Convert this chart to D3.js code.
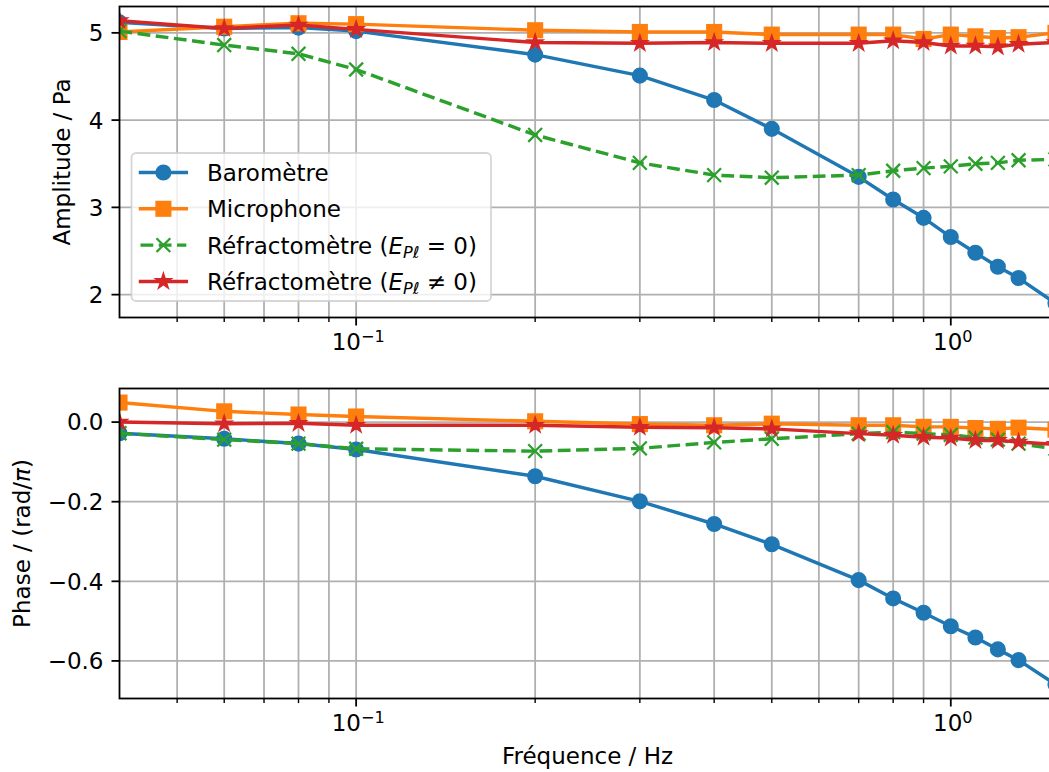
<!DOCTYPE html>
<html><head><meta charset="utf-8">
<script src="https://cdn.jsdelivr.net/npm/d3@7"></script>
<style>body{margin:0;background:#fff} text{font-family:"DejaVu Sans",sans-serif;fill:#000}</style>
</head><body><svg id="c" width="1049" height="772"></svg>
<script>
// ---- data ----
const freqs = [0.04,0.06,0.08,0.1,0.2,0.3,0.4,0.5,0.7,0.8,0.9,1.0,1.1,1.2,1.3,1.5];
const ampBaro  = [5.12,5.05,5.06,5.02,4.75,4.51,4.23,3.90,3.35,3.09,2.88,2.66,2.48,2.32,2.19,1.90];
const ampMicro = [5.01,5.07,5.11,5.10,5.03,5.01,5.01,4.98,4.98,4.98,4.93,4.98,4.96,4.94,4.95,5.00];
const ampRefr0 = [5.02,4.86,4.76,4.58,3.83,3.51,3.37,3.34,3.37,3.42,3.45,3.47,3.50,3.51,3.54,3.55];
const ampRefr1 = [5.14,5.05,5.09,5.04,4.89,4.88,4.89,4.88,4.88,4.91,4.89,4.85,4.85,4.84,4.87,4.89];
const phBaro  = [-0.028,-0.042,-0.054,-0.069,-0.136,-0.199,-0.256,-0.307,-0.397,-0.443,-0.479,-0.513,-0.541,-0.571,-0.598,-0.659];
const phMicro = [0.049,0.027,0.019,0.014,0.002,-0.005,-0.008,-0.004,-0.008,-0.008,-0.012,-0.012,-0.015,-0.017,-0.014,-0.019];
const phRefr0 = [-0.028,-0.044,-0.054,-0.067,-0.073,-0.066,-0.051,-0.042,-0.029,-0.025,-0.029,-0.032,-0.039,-0.044,-0.054,-0.067];
const phRefr1 = [0.000,-0.004,-0.003,-0.008,-0.008,-0.013,-0.014,-0.017,-0.029,-0.033,-0.038,-0.040,-0.046,-0.046,-0.050,-0.056];
const xMajorTicks = [0.1, 1];
const xMinorTicks = [0.05,0.06,0.07,0.08,0.09,0.2,0.3,0.4,0.5,0.6,0.7,0.8,0.9];
const xTickExp = ["\u22121","0"];
const ampTicks = [2,3,4,5];
const phTicks = [-0.6,-0.4,-0.2,0.0];
const xDomain = [0.04, 1.5];
const names = ["Baromètre","Microphone","Réfractomètre","Réfractomètre"];
const colors = ["#1f77b4","#ff7f0e","#2ca02c","#d62728"];
const markers = ["circle","square","x","star"];
const dashed = [false,false,true,false];

// ---- layout ----
const svg = d3.select("#c");
const L = 119.5, R = 1055.5;
const FS = 23, LW = 3.45, MS = 13.8, MEW = 2.3;
const x = d3.scaleLog().domain(xDomain).range([L, R]);

function star(r){
  const pts=[];
  for(let i=0;i<10;i++){
    const rr = i%2===0 ? r : r*0.381966;
    const a = -Math.PI/2 + i*Math.PI/5;
    pts.push([rr*Math.cos(a), rr*Math.sin(a)]);
  }
  return "M"+pts.map(p=>p.join(",")).join("L")+"Z";
}
function drawMarker(g, type, cx, cy, col){
  const h = MS/2;
  if(type==="circle") g.append("circle").attr("cx",cx).attr("cy",cy).attr("r",h).attr("fill",col).attr("stroke",col).attr("stroke-width",MEW);
  else if(type==="square") g.append("rect").attr("x",cx-h).attr("y",cy-h).attr("width",MS).attr("height",MS).attr("fill",col).attr("stroke",col).attr("stroke-width",MEW).attr("stroke-linejoin","miter");
  else if(type==="x") g.append("path").attr("d",`M${cx-h},${cy-h}L${cx+h},${cy+h}M${cx-h},${cy+h}L${cx+h},${cy-h}`).attr("stroke",col).attr("stroke-width",MEW).attr("fill","none");
  else g.append("path").attr("transform",`translate(${cx},${cy})`).attr("d",star(h)).attr("fill",col).attr("stroke",col).attr("stroke-width",MEW).attr("stroke-linejoin","miter");
}

function margined(arrs){
  const all = arrs.flat();
  const [a,b] = d3.extent(all);
  const m = (b-a)*0.05;
  return [a-m, b+m];
}

function panel(id, top, bottom, data, yTicks, yFmt){
  const y = d3.scaleLinear().domain(margined(data)).range([bottom, top]);
  const g = svg.append("g");
  const clipId = "clip"+id;
  svg.append("clipPath").attr("id",clipId).append("rect").attr("x",L).attr("y",top).attr("width",R-L).attr("height",bottom-top);
  // grid
  const grid = g.append("g").attr("stroke","#b0b0b0").attr("stroke-width",1.8);
  xMajorTicks.concat(xMinorTicks).forEach(t=>{
    grid.append("line").attr("x1",x(t)).attr("x2",x(t)).attr("y1",top).attr("y2",bottom);
  });
  yTicks.forEach(t=>{
    grid.append("line").attr("x1",L).attr("x2",R).attr("y1",y(t)).attr("y2",y(t));
  });
  // series
  const sg = g.append("g").attr("clip-path",`url(#${clipId})`);
  data.forEach((vals,i)=>{
    const line = d3.line().x((d,j)=>x(freqs[j])).y(d=>y(d));
    const p = sg.append("path").attr("d",line(vals)).attr("fill","none").attr("stroke",colors[i])
      .attr("stroke-width",LW).attr("stroke-linejoin","round");
    if(dashed[i]) p.attr("stroke-dasharray",`${3.7*LW},${1.6*LW}`);
    else p.attr("stroke-linecap","square");
    vals.forEach((v,j)=>drawMarker(sg, markers[i], x(freqs[j]), y(v), colors[i]));
  });
  // axes (spines + ticks)
  const ax = g.append("g").attr("stroke","#000");
  xMinorTicks.forEach(t=>ax.append("line").attr("x1",x(t)).attr("x2",x(t)).attr("y1",bottom).attr("y2",bottom+4.6).attr("stroke-width",1.4));
  xMajorTicks.forEach(t=>ax.append("line").attr("x1",x(t)).attr("x2",x(t)).attr("y1",bottom).attr("y2",bottom+8).attr("stroke-width",1.8));
  yTicks.forEach(t=>ax.append("line").attr("x1",L-8).attr("x2",L).attr("y1",y(t)).attr("y2",y(t)).attr("stroke-width",1.8));
  ax.append("rect").attr("x",L).attr("y",top).attr("width",R-L).attr("height",bottom-top).attr("fill","none").attr("stroke-width",1.8);
  // labels
  xMajorTicks.forEach((t,k)=>{
    const tx = g.append("text").attr("x",x(t)+2).attr("y",bottom+32).attr("text-anchor","middle").attr("font-size",FS);
    tx.append("tspan").text("10");
    tx.append("tspan").attr("dy",-8).attr("font-size",FS*0.7).text(xTickExp[k]);
  });
  yTicks.forEach(t=>{
    g.append("text").attr("x",L-16).attr("y",y(t)+8.4).attr("text-anchor","end").attr("font-size",FS).text(yFmt(t));
  });
  return y;
}

const fmt1 = d=>String(d);
const fmtPh = d=>d3.format(".1f")(d).replace("-","\u2212");
panel("a", 6.5, 317.5, [ampBaro,ampMicro,ampRefr0,ampRefr1], ampTicks, fmt1);
panel("b", 388.5, 698.5, [phBaro,phMicro,phRefr0,phRefr1], phTicks, fmtPh);

// axis titles
svg.append("text").attr("transform","translate(70,162) rotate(-90)").attr("text-anchor","middle").attr("font-size",FS).text("Amplitude / Pa");
const pl = svg.append("text").attr("transform","translate(30,543.5) rotate(-90)").attr("text-anchor","middle").attr("font-size",FS);
pl.append("tspan").text("Phase / (rad/");
pl.append("tspan").attr("font-style","italic").text("\u03c0");
pl.append("tspan").text(")");
svg.append("text").attr("x",(L+R)/2).attr("y",764).attr("text-anchor","middle").attr("font-size",FS).text("Fréquence / Hz");

// legend
const lg = svg.append("g");
lg.append("rect").attr("x",131.5).attr("y",153).attr("width",359.5).attr("height",148).attr("rx",4.6)
  .attr("fill","#fff").attr("fill-opacity",0.8).attr("stroke","#cccccc").attr("stroke-opacity",0.8).attr("stroke-width",1.8);
const rowY = [172.5,208.8,245.1,281.4];
const hx0 = 140.5, hx1 = 186.3;
names.forEach((n,i)=>{
  const cy = rowY[i];
  const ln = lg.append("line").attr("x1",hx0).attr("x2",hx1).attr("y1",cy).attr("y2",cy).attr("stroke",colors[i]).attr("stroke-width",LW);
  if(dashed[i]) ln.attr("stroke-dasharray",`${3.7*LW},${1.6*LW}`); else ln.attr("stroke-linecap","square");
  drawMarker(lg, markers[i], (hx0+hx1)/2, cy, colors[i]);
  const t = lg.append("text").attr("x",207).attr("y",cy+8.4).attr("font-size",FS);
  t.append("tspan").text(n);
  if(i>=2){
    t.append("tspan").text(" (");
    t.append("tspan").attr("font-style","italic").text("E");
    t.append("tspan").attr("font-style","italic").attr("font-size",FS*0.7).attr("dy",4).text("P\u2113");
    t.append("tspan").attr("dy",-4).text(i===2?" = 0)":" \u2260 0)");
  }
});
</script></body></html>
